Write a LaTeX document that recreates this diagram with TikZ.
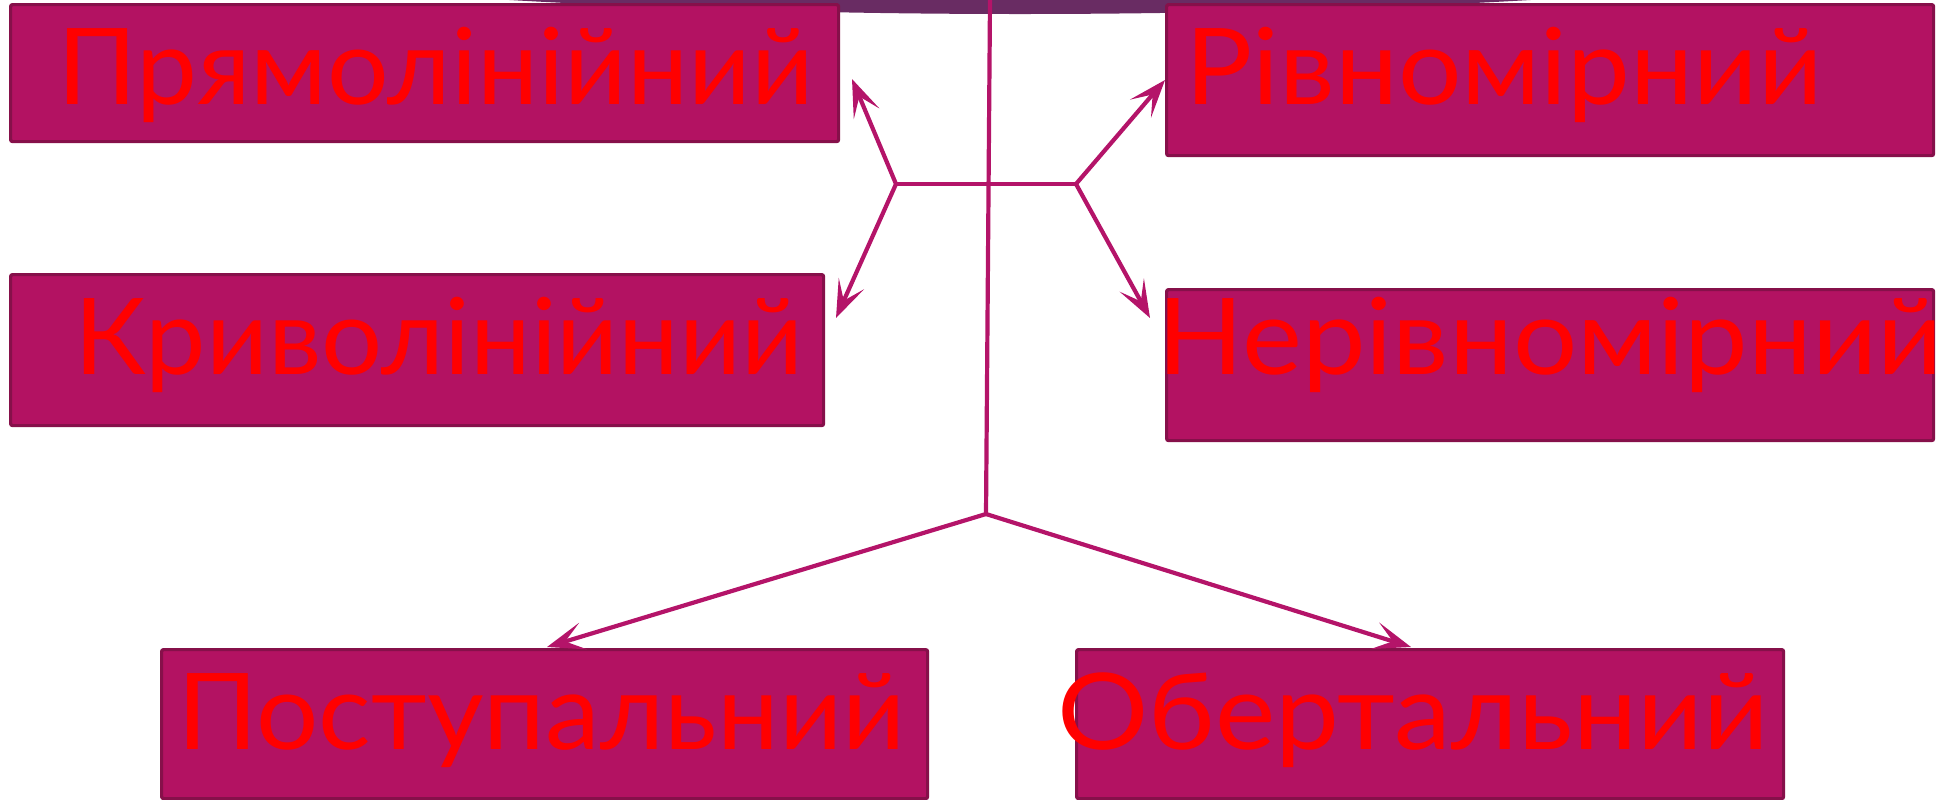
\documentclass[tikz,border=0pt]{standalone}
\usepackage{fontspec}
\usepackage{graphicx}
\setmainfont{Lato}
\usetikzlibrary{arrows.meta}

\definecolor{boxfill}{HTML}{B31262}
\definecolor{boxline}{HTML}{86104A}
\definecolor{wire}{HTML}{B41469}
\definecolor{dome}{HTML}{692C63}
\definecolor{labelred}{HTML}{FF0000}

% stretch a word to a given width, keeping its height
\newcommand\fitlabel[2]{\resizebox{#1}{\height}{#2}}

\begin{document}
\begin{tikzpicture}[x=0.5pt,y=-0.5pt,
  panel/.style={draw=boxline, line width=1.6pt, fill=boxfill,
    rounded corners=1pt, inner sep=0pt, anchor=north west},
  word/.style={inner sep=0pt, anchor=base west, text=labelred,
    font=\fontsize{53}{60}\selectfont},
  link/.style={draw=wire, line width=2.1pt},
  arrowlink/.style={link, -{Stealth[length=18.8pt, width=13.8pt, inset=9.3pt]}}]

\useasboundingbox (0,0) rectangle (1954,799);

% dark cap at the top edge
\fill[dome] (1020,-200) ellipse [x radius=716pt, y radius=107pt];

% junction points of the connector tree
\coordinate (top) at (990,0);
\coordinate (hub) at (986,514);
\coordinate (jl) at (896,184);
\coordinate (jr) at (1076,184);
\coordinate (tipA) at (852,79);
\coordinate (tipB) at (836,318);
\coordinate (tipC) at (1165,80);
\coordinate (tipD) at (1150,318);
\coordinate (tipE) at (547,647);
\coordinate (tipF) at (1411,647);

% category boxes
\node[panel, minimum width=414pt, minimum height=68.5pt] (b1) at (9,3) {};
\node[panel, minimum width=383.5pt, minimum height=75.5pt] (b2) at (1165,3) {};
\node[panel, minimum width=406.5pt, minimum height=75.5pt] (b3) at (9,273) {};
\node[panel, minimum width=383.5pt, minimum height=75.5pt] (b4) at (1165,288) {};
\node[panel, minimum width=383pt, minimum height=74.5pt] (b5) at (160,648) {};
\node[panel, minimum width=353.5pt, minimum height=74.5pt] (b6) at (1075,648) {};

% connectors
\draw[link] (top) -- (hub);
\draw[link] (jl) -- (jr);
\draw[arrowlink] (jl) -- (tipA);
\draw[arrowlink] (jl) -- (tipB);
\draw[arrowlink] (jr) -- (tipC);
\draw[arrowlink] (jr) -- (tipD);
\draw[arrowlink] (hub) -- (tipE);
\draw[arrowlink] (hub) -- (tipF);

% labels
\node[word] (t1) at (57,104) {\fitlabel{378pt}{Прямолінійний}};
\node[word] (t2) at (1185,104) {\fitlabel{318.5pt}{Рівномірний}};
\node[word] (t3) at (74,374) {\fitlabel{364.5pt}{Криволінійний}};
\node[word] (t4) at (1157,374) {\fitlabel{392.5pt}{Нерівномірний}};
\node[word] (t5) at (177,749) {\fitlabel{364pt}{Поступальний}};
\node[word] (t6) at (1057,749) {\fitlabel{355.5pt}{Обертальний}};
\end{tikzpicture}
\end{document}
